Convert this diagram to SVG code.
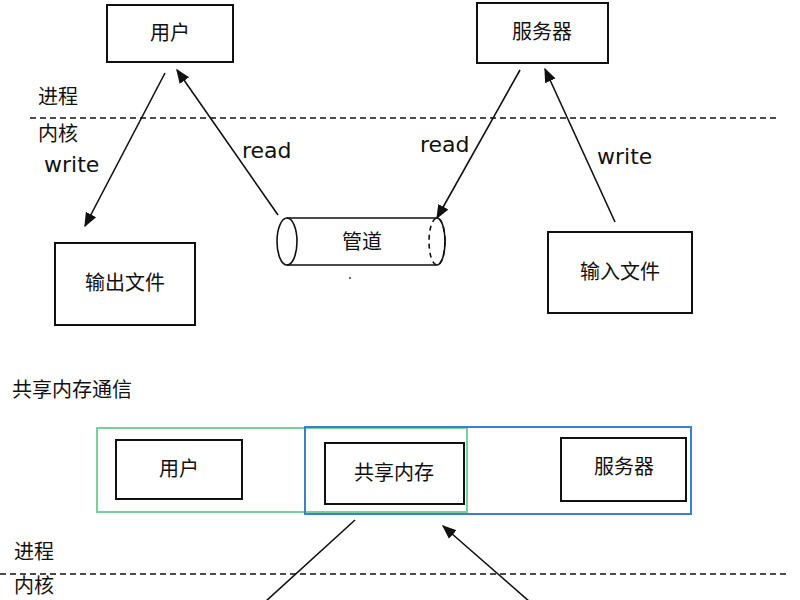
<svg xmlns="http://www.w3.org/2000/svg" width="800" height="600" viewBox="0 0 800 600">
<style>
text{font-family:"Noto Sans CJK SC","Liberation Sans",sans-serif;font-size:20px;fill:#111}
.lbl{font-family:"DejaVu Sans","Liberation Sans",sans-serif;font-size:22px}
.box{fill:#fff;stroke:#111;stroke-width:2}
.ln{stroke:#111;stroke-width:1.6;fill:none}
.dash{stroke:#111;stroke-width:1.6;stroke-dasharray:6 4}
</style>
<defs><marker id="a" viewBox="0 0 10 10" refX="9" refY="5" markerWidth="9" markerHeight="9" orient="auto"><path d="M0,1 L10,5 L0,9 z" fill="#111"/></marker></defs>
<rect width="800" height="600" fill="#fff"/>
<line class="dash" x1="30" y1="118" x2="780" y2="118"/>
<text x="38" y="104" font-size="18">进程</text>
<text x="38" y="141" font-size="18">内核</text>
<line class="dash" x1="0" y1="574" x2="790" y2="574"/>
<text x="14" y="559" font-size="18">进程</text>
<text x="14" y="593" font-size="17">内核</text>
<text x="12" y="397" font-size="19">共享内存通信</text>
<g id="user"><rect class="box" x="107" y="5" width="126" height="57"/><text x="170" y="40" text-anchor="middle">用户</text></g>
<g id="server"><rect class="box" x="477" y="3" width="131" height="60"/><text x="542" y="39" text-anchor="middle">服务器</text></g>
<g id="outfile"><rect class="box" x="55" y="243" width="140" height="82"/><text x="125" y="290" text-anchor="middle">输出文件</text></g>
<g id="infile"><rect class="box" x="548" y="232" width="144" height="81"/><text x="620" y="279" text-anchor="middle">输入文件</text></g>
<g id="pipe">
<path class="ln" d="M287,218 H437 M287,265 H437"/>
<ellipse class="ln" cx="287" cy="241.5" rx="10" ry="23.5"/>
<ellipse cx="437" cy="241.5" rx="8" ry="23.5" fill="none" stroke="#111" stroke-width="1.6" stroke-dasharray="5 4"/>
<path class="ln" d="M437,218 A8,23.5 0 0 1 437,265"/>
<text x="362" y="249" text-anchor="middle" font-size="18">管道</text>
<circle cx="350" cy="278" r="1" fill="#333"/>
</g>
<g id="shm-groups">
<rect x="97" y="428" width="370" height="84" fill="none" stroke="#7ccf9a" stroke-width="2"/>
<rect x="305" y="427" width="386" height="87" fill="none" stroke="#3d7fcf" stroke-width="2"/>
</g>
<g id="user2"><rect class="box" x="116" y="440" width="126" height="59"/><text x="179" y="476" text-anchor="middle">用户</text></g>
<g id="shm"><rect class="box" x="325" y="443" width="139" height="61"/><text x="394" y="480" text-anchor="middle">共享内存</text></g>
<g id="server2"><rect class="box" x="561" y="438" width="125" height="63"/><text x="624" y="474" text-anchor="middle">服务器</text></g>
<g id="connectors">
<line class="ln" x1="165" y1="73" x2="85" y2="226" marker-end="url(#a)"/>
<line class="ln" x1="278" y1="215" x2="177" y2="70" marker-end="url(#a)"/>
<line class="ln" x1="520" y1="70" x2="437" y2="218" marker-end="url(#a)"/>
<line class="ln" x1="615" y1="222" x2="545" y2="69" marker-end="url(#a)"/>
<line class="ln" x1="355" y1="520" x2="265" y2="602"/>
<line class="ln" x1="530" y1="602" x2="443" y2="526" marker-end="url(#a)"/>
<text class="lbl" x="44" y="172">write</text>
<text class="lbl" x="242" y="158">read</text>
<text class="lbl" x="420" y="152">read</text>
<text class="lbl" x="597" y="164">write</text>
</g>
</svg>
